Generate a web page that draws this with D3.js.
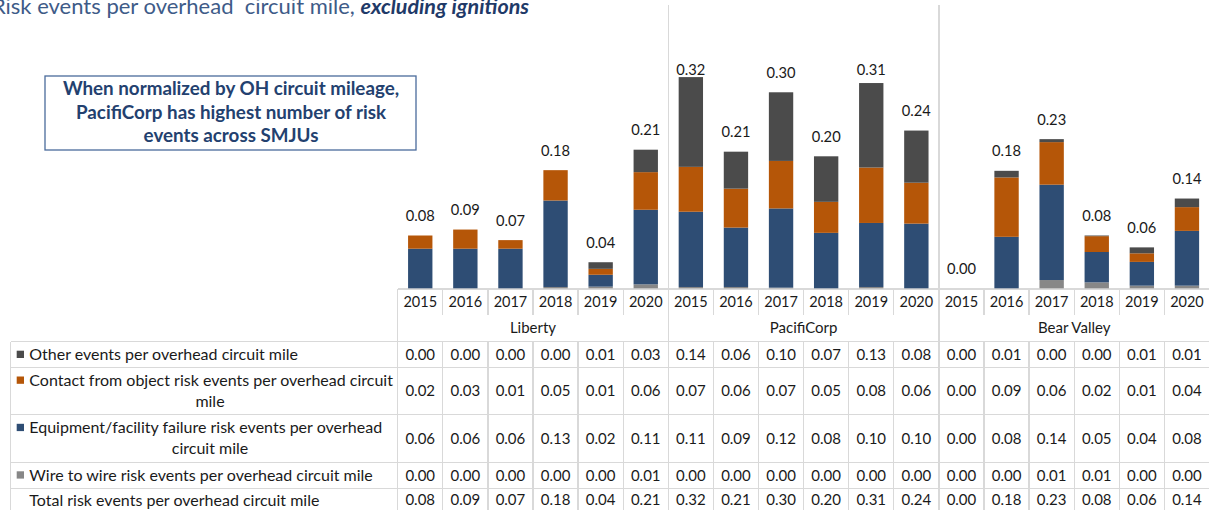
<!DOCTYPE html>
<html>
<head>
<meta charset="utf-8">
<script src="https://cdn.jsdelivr.net/npm/d3@7"></script>
<style>
  body { margin: 0; background: #fff; }
  svg { display: block; font-family: Lato, "Noto Sans", sans-serif; }
</style>
</head>
<body>
<div id="chart"></div>
<script>
// chart data
var groups = ["Liberty", "PacifiCorp", "Bear Valley"];
var years = ["2015", "2016", "2017", "2018", "2019", "2020"];

// risk events per overhead circuit mile, one value per group/year
var otherEvents = [0, 0, 0, 0, 0.010, 0.034, 0.136, 0.056, 0.104, 0.069, 0.128, 0.079, 0, 0.010, 0.0045, 0.001, 0.009, 0.013];
var contactEvents = [0.020, 0.029, 0.013, 0.046, 0.009, 0.057, 0.068, 0.059, 0.072, 0.047, 0.084, 0.062, 0, 0.090, 0.0645, 0.024, 0.013, 0.036];
var equipEvents = [0.060, 0.060, 0.060, 0.131, 0.018, 0.113, 0.114, 0.090, 0.120, 0.084, 0.097, 0.098, 0, 0.078, 0.1445, 0.046, 0.036, 0.083];
var wireEvents = [0, 0, 0, 0.002, 0.0025, 0.006, 0.002, 0.002, 0.001, 0, 0.002, 0, 0, 0, 0.0125, 0.009, 0.004, 0.004];

// series, bottom of stack first
var series = [
  { key: "wire", label: "Wire to wire risk events per overhead circuit mile", values: wireEvents, color: "#878787" },
  { key: "equip", label: ["Equipment/facility failure risk events per overhead", "circuit mile"], values: equipEvents, color: "#2e4d74" },
  { key: "contact", label: ["Contact from object risk events per overhead circuit", "mile"], values: contactEvents, color: "#b55608" },
  { key: "other", label: "Other events per overhead circuit mile", values: otherEvents, color: "#4b4b4b" }
];

var width = 1209;
var height = 510;

var svg = d3.select("#chart").append("svg")
  .attr("width", width)
  .attr("height", height);

// columns
var colLeft = 397.7;
var colRight = 1209.5;
var baseY = 288.3;
var lineColor = "#d9d9d9";
var textColor = "#1a1a1a";

var cats = [];
groups.forEach(function(g) {
  years.forEach(function(y) { cats.push(g + "|" + y); });
});

var rows = cats.map(function(c, i) {
  var r = { cat: c, group: c.split("|")[0], year: c.split("|")[1] };
  series.forEach(function(s) { r[s.key] = s.values[i]; });
  r.total = wireEvents[i] + equipEvents[i] + contactEvents[i] + otherEvents[i];
  return r;
});

var x = d3.scaleBand()
  .domain(cats)
  .range([colLeft, colRight])
  .paddingInner(0.46)
  .paddingOuter(0.23);
var step = x.step();

var y = d3.scaleLinear()
  .domain([0, 0.35])
  .range([baseY, baseY - 0.35 * 660]);

function colEdge(i) { return colLeft + i * step; }

// title (starts off the left edge, like the slide it came from)
var title = svg.append("text")
  .attr("x", 529)
  .attr("y", 14)
  .attr("text-anchor", "end")
  .style("white-space", "pre")
  .attr("fill", "#3e5b88");
title.append("tspan")
  .attr("font-size", 22)
  .text("Risk events per overhead  circuit mile, ");
title.append("tspan")
  .attr("font-size", 21.5)
  .attr("font-weight", "bold")
  .attr("font-style", "italic")
  .attr("fill", "#1f3a68")
  .text("excluding ignitions");

// callout box
svg.append("rect")
  .attr("x", 45)
  .attr("y", 76)
  .attr("width", 371)
  .attr("height", 74)
  .attr("fill", "#fff")
  .attr("stroke", "#4a6b9b")
  .attr("stroke-width", 1.3);
var callout = ["When normalized by OH circuit mileage,", "PacifiCorp has highest number of risk", "events across SMJUs"];
svg.append("g").selectAll("text")
  .data(callout)
  .enter()
  .append("text")
  .attr("x", 231)
  .attr("y", function(d, i) { return 95 + i * 23.5; })
  .attr("text-anchor", "middle")
  .attr("font-size", 18.8)
  .attr("font-weight", "bold")
  .attr("fill", "#23416f")
  .text(function(d) { return d; });

// grid lines
var grid = svg.append("g")
  .attr("stroke", lineColor)
  .attr("stroke-width", 1.3)
  .attr("shape-rendering", "crispEdges");

// axis line
grid.append("line")
  .attr("x1", colLeft).attr("x2", colRight)
  .attr("y1", baseY + 0.7).attr("y2", baseY + 0.7);

// year ticks
d3.range(1, 18).forEach(function(i) {
  if (i % 6 === 0) return;
  grid.append("line")
    .attr("x1", colEdge(i)).attr("x2", colEdge(i))
    .attr("y1", baseY + 0.7).attr("y2", 315);
});

// group separators
[0, 6, 12].forEach(function(i) {
  grid.append("line")
    .attr("x1", colEdge(i)).attr("x2", colEdge(i))
    .attr("y1", i === 0 ? baseY + 0.7 : 5).attr("y2", 341.7);
});

// table lines
var tableLines = [341.7, 367.7, 414.3, 462.3, 488.3, 512];
tableLines.forEach(function(ty) {
  grid.append("line")
    .attr("x1", 10.7).attr("x2", colRight)
    .attr("y1", ty).attr("y2", ty);
});
grid.append("line")
  .attr("x1", 10.7).attr("x2", 10.7)
  .attr("y1", 341.7).attr("y2", 512);
d3.range(0, 18).forEach(function(i) {
  grid.append("line")
    .attr("x1", colEdge(i)).attr("x2", colEdge(i))
    .attr("y1", 341.7).attr("y2", 512);
});

// stacked bars
var stack = d3.stack().keys(series.map(function(s) { return s.key; }));
var stacked = stack(rows);

svg.append("g").selectAll("g")
  .data(stacked)
  .enter()
  .append("g")
  .attr("fill", function(d, i) { return series[i].color; })
  .selectAll("rect")
  .data(function(d) { return d; })
  .enter()
  .append("rect")
  .attr("x", function(d) { return x(d.data.cat); })
  .attr("width", x.bandwidth())
  .attr("y", function(d) { return y(d[1]); })
  .attr("height", function(d) { return y(d[0]) - y(d[1]); });

// total labels above bars
svg.append("g").selectAll("text")
  .data(rows)
  .enter()
  .append("text")
  .attr("x", function(d) { return x(d.cat) + x.bandwidth() / 2; })
  .attr("y", function(d) { return Math.max(y(d.total) - 14.5, 75); })
  .attr("text-anchor", "middle")
  .attr("font-size", 14.7)
  .attr("fill", textColor)
  .text(function(d) { return d.total.toFixed(2); });

// year labels
svg.append("g").selectAll("text")
  .data(rows)
  .enter()
  .append("text")
  .attr("x", function(d) { return x(d.cat) + x.bandwidth() / 2; })
  .attr("y", 307)
  .attr("text-anchor", "middle")
  .attr("font-size", 14.5)
  .attr("fill", textColor)
  .text(function(d) { return d.year; });

// group labels
svg.append("g").selectAll("text")
  .data(groups)
  .enter()
  .append("text")
  .attr("x", function(d, i) { return colEdge(i * 6 + 3); })
  .attr("y", 333)
  .attr("text-anchor", "middle")
  .attr("font-size", 15)
  .attr("fill", textColor)
  .text(function(d) { return d; });

// data table
var tableRows = [
  { s: series[3], top: 341.7, bottom: 367.7 },
  { s: series[2], top: 367.7, bottom: 414.3 },
  { s: series[1], top: 414.3, bottom: 462.3 },
  { s: series[0], top: 462.3, bottom: 488.3 },
  { s: null, top: 488.3, bottom: 512 }
];

tableRows.forEach(function(tr) {
  var mid = (tr.top + tr.bottom) / 2;
  var label = tr.s ? tr.s.label : "Total risk events per overhead circuit mile";
  var lines = Array.isArray(label) ? label : [label];
  var ty0 = mid - (lines.length - 1) * 10.5;

  if (tr.s) {
    svg.append("rect")
      .attr("x", 16.7)
      .attr("y", ty0 - 4)
      .attr("width", 7.3)
      .attr("height", 7.3)
      .attr("fill", tr.s.color);
  }
  lines.forEach(function(ln, k) {
    svg.append("text")
      .attr("x", k === 0 ? 29.3 : 210)
      .attr("y", ty0 + k * 21 + 5.5)
      .attr("text-anchor", k === 0 ? "start" : "middle")
      .attr("font-size", 16)
      .attr("fill", textColor)
      .text(ln);
  });

  svg.append("g").selectAll("text")
    .data(rows)
    .enter()
    .append("text")
    .attr("x", function(d) { return x(d.cat) + x.bandwidth() / 2; })
    .attr("y", mid + 5.3)
    .attr("text-anchor", "middle")
    .attr("font-size", 15)
    .attr("fill", textColor)
    .text(function(d) { return (tr.s ? d[tr.s.key] : d.total).toFixed(2); });
});
</script>
</body>
</html>
